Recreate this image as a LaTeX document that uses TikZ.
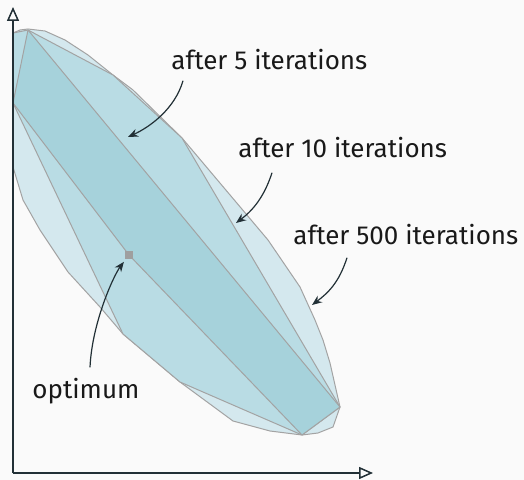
\documentclass[tikz,border=0pt]{standalone}
\usepackage{fontspec}
\setmainfont{Fira Sans}
\usepackage{tikz}
\usetikzlibrary{arrows.meta, calc}
\definecolor{bgwhite}{RGB}{250, 250, 250}
\definecolor{hullpale}{RGB}{212, 232, 238}
\definecolor{hullmid}{RGB}{185, 220, 228}
\definecolor{hulldeep}{RGB}{166, 210, 219}
\definecolor{edgegray}{RGB}{163, 163, 163}
\definecolor{inkdark}{RGB}{34, 48, 54}

\begin{document}
\begin{tikzpicture}[x=0.5pt, y=-0.5pt,
    poly/.style={draw=edgegray, line width=0.5pt, line join=round},
    lbl/.style={inner sep=0pt, anchor=base west, font=\fontsize{13}{15}\selectfont, text=black!90},
    pointer/.style={draw=inkdark, line width=0.6pt, -{Stealth[length=5pt, width=4pt]}},
    axis/.style={draw=inkdark, line width=0.75pt, -{Triangle[open, length=7pt, width=6pt]}}]
    % Background
    \fill[bgwhite] (0,0) rectangle (524,480);

    % After 500 iterations
    \filldraw[poly, fill=hullpale] (13,33) -- (20,30) -- (28,29) -- (45,31) -- (65,40) -- (88,55)
        -- (113,75) -- (133,90) -- (182,138) -- (268,240) -- (300,287) -- (315,320) -- (323,340)
        -- (330,363) -- (340,407) -- (333,427) -- (318,433) -- (302,435) -- (270,431) -- (233,421)
        -- (180,382) -- (123,334) -- (100,307) -- (68,272) -- (40,230) -- (23,200) -- (13,167) -- cycle;

    % After 10 iterations
    \filldraw[poly, fill=hullmid] (13,33) -- (28,30) -- (113,75) -- (182,138) -- (340,407)
        -- (302,435) -- (180,382) -- (123,334) -- (13,103) -- cycle;

    % After 5 iterations
    \filldraw[poly, fill=hulldeep] (28,30) -- (340,407) -- (302,435) -- (129,255) -- (13,103) -- cycle;

    % Optimum
    \node[fill=gray!75, minimum size=4pt, inner sep=0pt] (opt) at (129,255) {};

    % Axes
    \coordinate (origin) at (13,473);
    \coordinate (xend) at (373,473);
    \coordinate (yend) at (13,7);
    \draw[axis] (origin) -- (xend);
    \draw[axis] (origin) -- (yend);

    % Labels
    \node[lbl] (lbl5) at (171,70) {after 5 iterations};
    \node[lbl] (lbl10) at (238,158) {after 10 iterations};
    \node[lbl] (lbl500) at (293,245) {after 500 iterations};
    \node[lbl] (lblopt) at (32,398) {optimum};

    % Pointers
    \coordinate (t5) at (128,137);
    \coordinate (t10) at (236,223);
    \coordinate (t500) at (312,305);
    \draw[pointer] (lbl5.south west) ++(12,10) .. controls +(-8,28) and +(22,-10) .. (t5);
    \draw[pointer] (lbl10.south west) ++(34,14) .. controls +(-8,25) and +(16,-12) .. (t10);
    \draw[pointer] (lbl500.south west) ++(54,12) .. controls +(-8,25) and +(16,-12) .. (t500);
    \draw[pointer, shorten >=1.5pt] (lblopt.north west) ++(58,-10) .. controls +(2,-45) and +(-15,20) .. (opt);

\end{tikzpicture}
\end{document}
